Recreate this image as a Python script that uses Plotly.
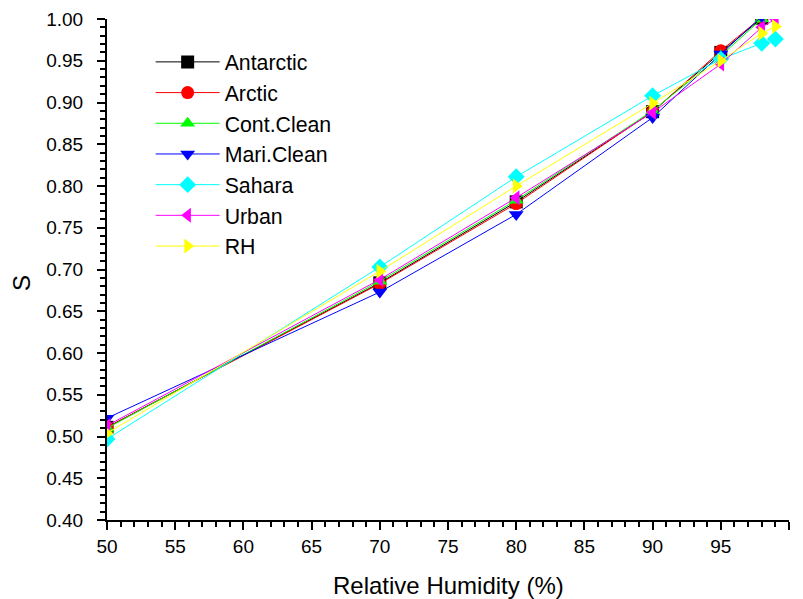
import plotly.graph_objects as go

# Relative humidity sample points (%)
rh = [50, 70, 80, 90, 95, 98, 99]

# S for each aerosol type
antarctic = [0.511, 0.684, 0.781, 0.889, 0.960, 1.001, 1.030]
arctic = [0.511, 0.683, 0.779, 0.889, 0.962, 1.002, 1.032]
cont_clean = [0.510, 0.686, 0.783, 0.890, 0.956, 1.000, 1.028]
mari_clean = [0.522, 0.673, 0.766, 0.882, 0.958, 1.003, 1.035]
sahara = [0.497, 0.703, 0.811, 0.908, 0.952, 0.971, 0.976]
urban = [0.513, 0.688, 0.786, 0.888, 0.946, 0.990, 1.000]
rh_series = [0.504, 0.698, 0.800, 0.899, 0.950, 0.983, 0.991]

series = [
    ("Antarctic", antarctic, "#000000", "square"),
    ("Arctic", arctic, "#FF0000", "circle"),
    ("Cont.Clean", cont_clean, "#00FF00", "triangle-up"),
    ("Mari.Clean", mari_clean, "#0000FF", "triangle-down"),
    ("Sahara", sahara, "#00FFFF", "diamond"),
    ("Urban", urban, "#FF00FF", "triangle-left"),
    ("RH", rh_series, "#FFFF00", "triangle-right"),
]

fig = go.Figure()
for name, vals, color, sym in series:
    fig.add_trace(go.Scatter(
        x=rh, y=vals, name=name, mode="lines+markers",
        line=dict(color=color, width=1),
        marker=dict(symbol=sym, size=13, color=color, line=dict(width=0)),
        cliponaxis=True,
    ))

family = "Liberation Sans, Arial, sans-serif"
tick_font = dict(family=family, size=19, color="black")

fig.update_layout(
    width=803, height=599,
    margin=dict(l=107, r=14, t=19, b=79, autoexpand=False),
    paper_bgcolor="white", plot_bgcolor="white",
    font=dict(family=family, color="black"),
    showlegend=True,
    legend=dict(
        x=0.064, y=0.955, xanchor="left", yanchor="top",
        bgcolor="rgba(0,0,0,0)", borderwidth=0,
        font=dict(size=21.3, family=family),
        itemwidth=64, tracegroupgap=0,
    ),
    xaxis=dict(
        range=[50, 100], tickmode="linear", tick0=50, dtick=5,
        showgrid=False, zeroline=False, automargin=False,
        showline=True, linecolor="black", linewidth=2,
        ticks="outside", ticklen=8, tickwidth=2, tickcolor="black",
        ticklabelstandoff=0,
        minor=dict(ticks="outside", dtick=1, ticklen=5, tickwidth=2, tickcolor="black", showgrid=False),
        tickfont=tick_font,
    ),
    yaxis=dict(
        range=[0.40, 1.00], tickmode="linear", tick0=0.40, dtick=0.05,
        tickformat=".2f",
        showgrid=False, zeroline=False, automargin=False,
        showline=True, linecolor="black", linewidth=2,
        ticks="outside", ticklen=8, tickwidth=2, tickcolor="black",
        ticklabelstandoff=10,
        minor=dict(ticks="outside", dtick=0.01, ticklen=5, tickwidth=2, tickcolor="black", showgrid=False),
        tickfont=tick_font,
    ),
    annotations=[
        dict(text="Relative Humidity (%)", xref="paper", yref="paper",
             x=0.5, y=-0.13, xanchor="center", yanchor="middle",
             showarrow=False, font=dict(size=24, family=family)),
        dict(text="S", xref="paper", yref="paper", textangle=-90,
             x=-0.126, y=0.473, xanchor="center", yanchor="middle",
             showarrow=False, font=dict(size=24, family=family)),
    ],
)

fig.write_html("out.html")
